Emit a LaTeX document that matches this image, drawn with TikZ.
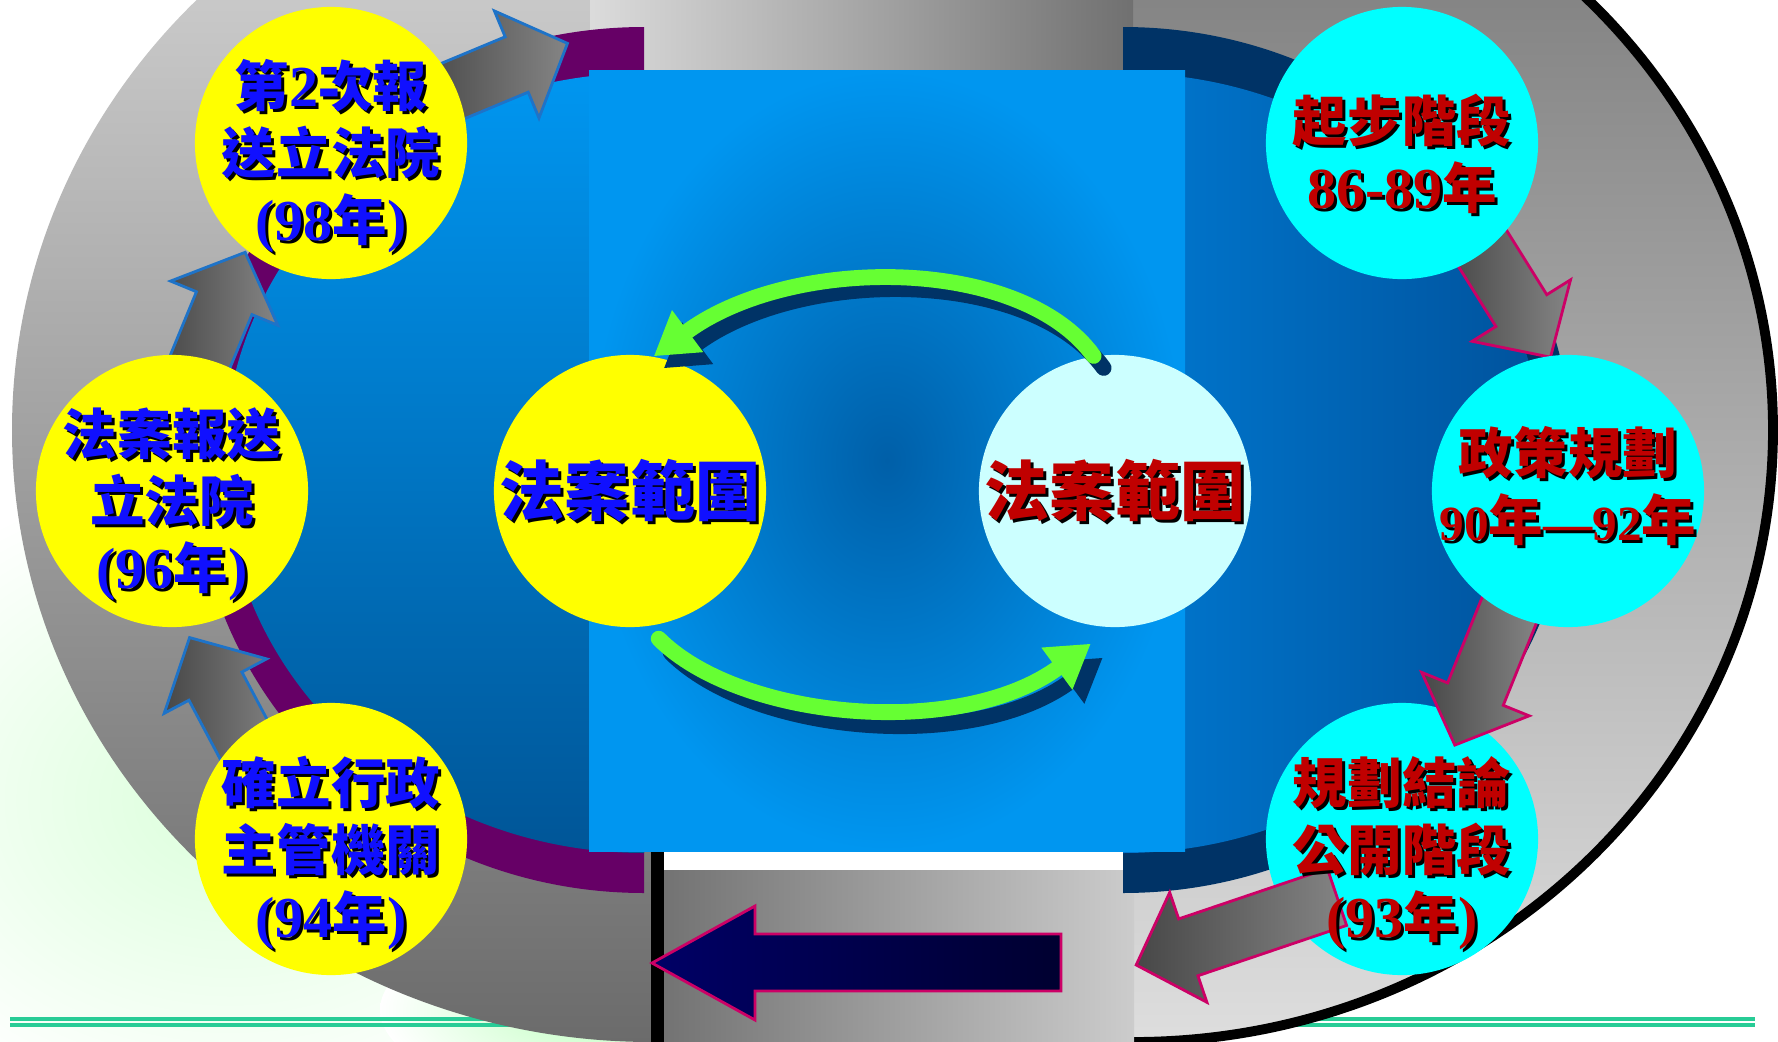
\documentclass[tikz,border=0pt]{standalone}
\usepackage{xcolor}
\usepackage{fontspec}
\usepackage{tikz}
\usetikzlibrary{arrows.meta}
\usetikzlibrary{calc}
\newfontfamily\cjk{Noto Sans CJK TC}
\newfontfamily\yrfont{Liberation Serif}
\definecolor{lawblue}{RGB}{16,16,255}
\definecolor{planred}{RGB}{192,0,0}
\definecolor{lawyellow}{RGB}{255,255,0}
\definecolor{plancyan}{RGB}{0,255,255}
\definecolor{ringpurple}{RGB}{102,0,102}
\definecolor{ringnavy}{RGB}{0,51,102}
\definecolor{arrowblue}{RGB}{30,115,200}
\definecolor{arrowpink}{RGB}{204,0,102}
\definecolor{arrownavy}{RGB}{0,0,102}
\definecolor{arrowdark}{RGB}{0,0,48}
\definecolor{loopgreen}{RGB}{102,255,51}
\definecolor{linegreen}{RGB}{40,204,150}
\definecolor{lightcyan}{RGB}{204,255,255}
\definecolor{pooldark}{RGB}{0,95,168}
\definecolor{poollight}{RGB}{0,150,240}
\newcommand\yr[2][16.5]{{\yrfont\bfseries\fontsize{#1}{#1}\selectfont #2}}
\tikzset{
stage/.style = { circle, minimum size = 27.2mm, inner sep = 0pt },
law stage/.style = { stage, fill = lawyellow },
plan stage/.style = { stage, fill = plancyan },
stage text/.style = { align = center, inner sep = 0pt, font = \cjk\bfseries\fontsize{15.5}{19}\selectfont },
law text/.style = { stage text, text = lawblue },
plan text/.style = { stage text, text = planred },
range text/.style = { align = center, inner sep = 0pt, font = \cjk\bfseries\fontsize{18.5}{20}\selectfont },
blue range/.style = { range text, text = lawblue },
red range/.style = { range text, text = planred },
loop/.style = { line width = 4.5pt, line cap = round, -{Triangle[width = 14pt, length = 12pt]} },
}
\tikzset{
pics/shadow text/.style args={#1, #2}{
        code = {
        \node[#1, text = black] (-s) at (3, 3) {#2};
        \node[#1] (-t) at (0, 0) {#2};
        }
    },
pics/block arrow/.style args={#1, #2}{
        code = {
        \path[draw = #2, line width = 0.8pt, left color = black!72, right color = black!48] (0, -30) -- (#1 - 55, -30) -- (#1 - 55, -58) -- (#1, 0) -- (#1 - 55, 58) -- (#1 - 55, 30) -- (0, 30) -- cycle;
        }
    }
}
\begin{document}
\begin{tikzpicture}[x = 0.01cm, y = -0.01cm]
    \useasboundingbox (0, 0) rectangle (1778, 1042);
    \clip (0, 0) rectangle (1778, 1042);
    \fill[white] (0, 0) rectangle (1778, 1042);
    \shade[inner color = green!14!white, outer color = white] (230, 800) ellipse [x radius = 420, y radius = 330];
    \shade[inner color = green!25!white, outer color = white] (600, 1010) ellipse [x radius = 220, y radius = 90];
    \fill[green!14!white] (1530, 68) ellipse [x radius = 22, y radius = 22];
    \draw[linegreen, line width = 0.9pt] (10, 1019) -- (1755, 1019);
    \draw[linegreen, line width = 0.9pt] (10, 1025) -- (1755, 1025);
    \path[top color = black!15, bottom color = black!58] (652, -182) arc [start angle = 270, end angle = 90, x radius = 640, y radius = 612] -- cycle;
    \path[top color = black!54, bottom color = black!13] (1133, -182) arc [start angle = -90, end angle = 90, x radius = 640, y radius = 612] -- cycle;
    \draw[black, line width = 2.8pt] (1133, -182) arc [start angle = -90, end angle = 90, x radius = 640, y radius = 612];
    \path[left color = black!14, right color = black!56] (590, -20) rectangle (1133, 90);
    \path[left color = black!55, right color = black!20] (664, 870) rectangle (1134, 1060);
    \fill[black] (651, 600) rectangle (664, 1060);
    \fill[ringpurple] (644, 27) arc [start angle = 270, end angle = 90, x radius = 450, y radius = 433] -- cycle;
    \fill[ringnavy] (1123, 27) arc [start angle = -90, end angle = 90, x radius = 450, y radius = 433] -- cycle;
    \path[top color = poollight, bottom color = pooldark!90!black] (644, 73) arc [start angle = 270, end angle = 90, x radius = 420, y radius = 390] -- cycle;
    \path[left color = {rgb,255:red,0;green,120;blue,208}, right color = {rgb,255:red,0;green,82;blue,156}] (1123, 73) arc [start angle = -90, end angle = 90, x radius = 420, y radius = 390] -- cycle;
    \path[inner color = pooldark, outer color = poollight] (589, 70) rectangle (1185, 851);
    \path[draw = arrowpink, line width = 0.8pt, left color = arrownavy, right color = arrowdark] (652, 963) -- (755, 906) -- (755, 934) -- (1061, 934) -- (1061, 991) -- (755, 991) -- (755, 1020) -- cycle;
    \pic[rotate = 67.6] (a1) at (188, 391) {block arrow = {150, arrowblue}};
    \pic[rotate = 22.6] (a2) at (429, 101) {block arrow = {150, arrowblue}};
    \pic[rotate = 118] (a3) at (260, 770) {block arrow = {150, arrowblue}};
    \pic[rotate = -58] (a4) at (1471, 230) {block arrow = {150, arrowpink}};
    \node[plan stage] (s93) at (1402, 839) {};
    \pic[rotate = -112] (a5) at (1511, 606) {block arrow = {150, arrowpink}};
    \pic[rotate = 198.7] (a6) at (1337, 897) {block arrow = {212, arrowpink}};
    \node[law stage] (s98) at (331, 143) {};
    \node[law stage] (s96) at (172, 491) {};
    \node[law stage] (s94) at (331, 839) {};
    \node[law stage] (r1) at (630, 491) {};
    \node[stage, fill = lightcyan] (r2) at (1115, 491) {};
    \node[plan stage] (s86) at (1402, 143) {};
    \node[plan stage] (s90) at (1568, 491) {};
    \draw[loop, ringnavy] ([shift = {(10, 12)}]r2.99) .. controls (1030, 267) and (800, 267) .. ([shift = {(10, 12)}]r1.80);
    \draw[loop, loopgreen] (r2.99) .. controls (1020, 255) and (790, 255) .. (r1.80);
    \draw[loop, ringnavy] ([shift = {(12, 14)}]$(r1.center)!1.1!(r1.-79)$) .. controls (752, 734) and (972, 754) .. ([shift = {(12, 14)}]$(r2.center)!1.13!(r2.-99)$);
    \draw[loop, loopgreen] ($(r1.center)!1.1!(r1.-79)$) .. controls (740, 720) and (960, 740) .. ($(r2.center)!1.13!(r2.-99)$);
    \pic (t98) at ([shift = {(0, 13)}]s98) {shadow text = {law text, {第\yr{2}次報\\送立法院\\\yr{(98}年\yr{)}}}};
    \pic (t96) at ([shift = {(0, 13)}]s96) {shadow text = {law text, {法案報送\\立法院\\\yr{(96}年\yr{)}}}};
    \pic (t94) at ([shift = {(0, 14)}]s94) {shadow text = {law text, {確立行政\\主管機關\\\yr{(94}年\yr{)}}}};
    \pic (t86) at ([shift = {(0, 11)}]s86) {shadow text = {plan text, {起步階段\\\yr{86-89}年}}};
    \pic (t90) at ([shift = {(0, -5)}]s90) {shadow text = {plan text, {政策規劃\\\yr[14]{90}年\yr[14]{—92}年}}};
    \pic (t93) at ([shift = {(0, 14)}]s93) {shadow text = {plan text, {規劃結論\\公開階段\\\yr{(93}年\yr{)}}}};
    \pic (tr1) at (r1) {shadow text = {blue range, {法案範圍}}};
    \pic (tr2) at (r2) {shadow text = {red range, {法案範圍}}};
\end{tikzpicture}
\end{document}
